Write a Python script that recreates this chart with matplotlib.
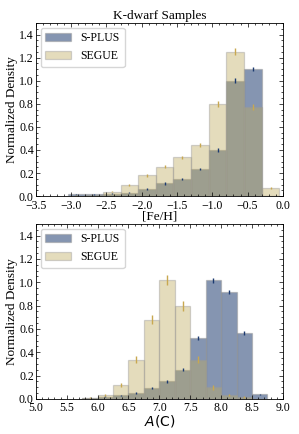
import numpy as np
import matplotlib
matplotlib.use("Agg")
import matplotlib.pyplot as plt
from matplotlib.ticker import MultipleLocator

# [Fe/H] histogram, bin width 0.25
feh_edges = [-3.05, -2.8, -2.55, -2.3, -2.05, -1.8, -1.55, -1.3, -1.05, -0.8, -0.55, -0.3]
feh_splus = [0.015, 0.015, 0.02, 0.03, 0.06, 0.11, 0.15, 0.235, 0.40, 1.00, 1.10, 0.0]
feh_segue = [0.005, 0.01, 0.04, 0.095, 0.18, 0.255, 0.335, 0.44, 0.80, 1.25, 0.77, 0.07]
feh_splus_err = [0.003, 0.003, 0.004, 0.005, 0.007, 0.009, 0.01, 0.012, 0.015, 0.02, 0.02, 0.0]
feh_segue_err = [0.003, 0.004, 0.007, 0.01, 0.012, 0.014, 0.015, 0.017, 0.025, 0.03, 0.025, 0.01]

# A(C) histogram, bin width 0.25
ac_edges = [5.75, 6.0, 6.25, 6.5, 6.75, 7.0, 7.25, 7.5, 7.75, 8.0, 8.25, 8.5]
ac_splus = [0.005, 0.02, 0.03, 0.05, 0.095, 0.15, 0.25, 0.52, 1.015, 0.915, 0.565, 0.04]
ac_segue = [0.01, 0.035, 0.12, 0.335, 0.68, 1.02, 0.795, 0.335, 0.10, 0.035, 0.015, 0.0]
ac_splus_err = [0.002, 0.004, 0.005, 0.006, 0.008, 0.01, 0.012, 0.015, 0.02, 0.018, 0.015, 0.004]
ac_segue_err = [0.005, 0.01, 0.02, 0.03, 0.04, 0.045, 0.04, 0.03, 0.02, 0.01, 0.006, 0.0]

WIDTH = 0.25
SPLUS_C = "#0d2d65"
SEGUE_C = "#bfac60"

plt.rcParams["font.family"] = ["Liberation Serif", "DejaVu Serif"]
plt.rcParams["mathtext.fontset"] = "dejavusans"


def draw(ax, edges, splus, segue, splus_err, segue_err, xlim, xlabel, xsize):
    edges = np.array(edges)
    centers = edges + WIDTH / 2
    ax.bar(edges, splus, width=WIDTH, align="edge", color=SPLUS_C, alpha=0.5,
           edgecolor="#999999", linewidth=0.9, label="S-PLUS")
    ax.bar(edges, segue, width=WIDTH, align="edge", color=SEGUE_C, alpha=0.42,
           edgecolor="#999999", linewidth=0.9, label="SEGUE")
    ax.errorbar(centers, splus, yerr=splus_err, fmt="none", ecolor="#1c3a70", elinewidth=1.0)
    ax.errorbar(centers, segue, yerr=segue_err, fmt="none", ecolor="#c8a850", elinewidth=1.0)
    ax.set_xlim(*xlim)
    ax.set_ylim(0, 1.5)
    ax.xaxis.set_major_locator(MultipleLocator(0.5))
    ax.xaxis.set_minor_locator(MultipleLocator(0.1))
    ax.yaxis.set_major_locator(MultipleLocator(0.2))
    ax.yaxis.set_minor_locator(MultipleLocator(0.05))
    ax.tick_params(which="both", direction="in", top=True, right=True, labelsize=8.5, pad=1.5)
    ax.tick_params(axis="x", which="both", pad=2.5)
    ax.tick_params(which="major", length=3, width=0.5)
    ax.tick_params(which="minor", length=1.5, width=0.5)
    for s in ax.spines.values():
        s.set_linewidth(0.6)
    ax.set_ylabel("Normalized Density", fontsize=9.5, labelpad=1)
    ax.set_xlabel(xlabel, fontsize=xsize, labelpad=-1)
    ax.legend(loc="upper left", fontsize=8.5, frameon=True, fancybox=True,
              handlelength=2.2, borderpad=0.4, labelspacing=0.5, borderaxespad=0.4)


fig = plt.figure(figsize=(2.99, 4.34), dpi=100)
ax1 = fig.add_axes([0.12, 0.548, 0.826, 0.399])
ax2 = fig.add_axes([0.12, 0.081, 0.826, 0.403])

draw(ax1, feh_edges, feh_splus, feh_segue, feh_splus_err, feh_segue_err, (-3.5, 0.0), "[Fe/H]", 9.5)
ax1.set_title("K-dwarf Samples", fontsize=9.5, pad=3)
draw(ax2, ac_edges, ac_splus, ac_segue, ac_splus_err, ac_segue_err, (5.0, 9.0), r"$A(\mathrm{C})$", 10)

fig.savefig("out.png", dpi=100)
